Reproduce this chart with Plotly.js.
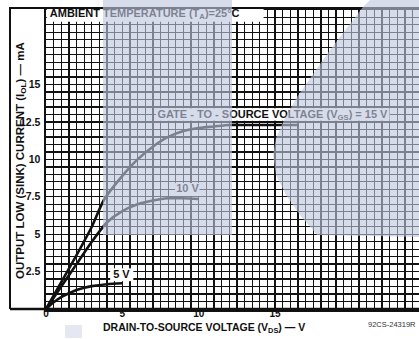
<!DOCTYPE html>
<html>
<head>
<meta charset="utf-8">
<script src="https://cdn.plot.ly/plotly-3.0.1.min.js"></script>
<style>html,body{margin:0;padding:0;background:#fff;}#chart{width:419px;height:339px;}</style>
</head>
<body>
<div id="chart"></div>
<script>
// ---- data ----
const vds15 = [0, 0.5, 1, 2, 3, 3.8, 5, 6, 7, 8, 9, 10, 11, 12, 13, 14, 15, 16.5];
const iol15 = [0, 0.9, 1.8, 3.6, 5.5, 7.3, 8.9, 10.0, 10.85, 11.5, 11.9, 12.1, 12.2, 12.3, 12.3, 12.3, 12.3, 12.3];
const vds10 = [0, 1, 2, 3, 4, 5, 6, 7, 8, 9, 10];
const iol10 = [0, 1.5, 3.0, 4.5, 5.8, 6.55, 7.0, 7.25, 7.4, 7.4, 7.35];
const vds5 = [0, 0.5, 1, 1.5, 2, 2.5, 3, 4, 5];
const iol5 = [0, 0.45, 0.8, 1.05, 1.27, 1.42, 1.53, 1.66, 1.72];
const xTickVals = [0, 5, 10, 15];
const xTickText = ["0", "5", "10", "15"];
const yTickVals = [2.5, 5, 7.5, 10, 12.5, 15];
const yTickText = ["2.5", "5", "7.5", "10", "12.5", "15"];
const labelText = ["AMBIENT TEMPERATURE (T<sub>A</sub>)=25°C", "GATE - TO - SOURCE VOLTAGE (V<sub>GS</sub>) = 15 V", "10 V", "5 V"];
const labelX = [0.25, 14.83, 9.27, 4.94];
const labelY = [19.72, 12.98, 7.98, 2.28];

// ---- layout geometry ----
const W = 419, H = 339, ML = 46, MR = 0, MT = 8, MB = 30;
const PW = W - ML - MR, PH = H - MT - MB;
const XMAX = PW / 15.27, YMAX = PH / 14.96;
const px = x => (x - ML) / PW;          // pixel -> paper x
const py = y => (H - MB - y) / PH;      // pixel -> paper y
const FONT = "Liberation Sans, Arial, sans-serif";

const lineStyle = {color: "#111", width: 2.6, shape: "spline", smoothing: 0.7};
const traces = [
  {x: vds15, y: iol15, mode: "lines", line: lineStyle, hoverinfo: "skip"},
  {x: vds10, y: iol10, mode: "lines", line: lineStyle, hoverinfo: "skip"},
  {x: vds5, y: iol5, mode: "lines", line: lineStyle, hoverinfo: "skip"},
  {x: labelX, y: labelY, text: labelText, mode: "text",
   textposition: ["middle right", "middle center", "middle center", "middle center"],
   textfont: {family: FONT, size: 11, color: "#111", weight: "bold"}, hoverinfo: "skip", cliponaxis: false}
];

function wpath(pts) {
  return "M " + pts.map(p => px(p[0]).toFixed(4) + "," + py(p[1]).toFixed(4)).join(" L ") + " Z";
}
const tint = "rgba(190,198,222,0.62)";
const shapes = [
  // white backgrounds behind in-plot labels
  {type: "rect", xref: "x", yref: "y", x0: 0.05, x1: 14.25, y0: 19.2, y1: 20.3, fillcolor: "#fff", line: {width: 0}, layer: "between"},
  {type: "rect", xref: "x", yref: "y", x0: 7.2, x1: 22.5, y0: 12.58, y1: 13.42, fillcolor: "#fff", line: {width: 0}, layer: "between"},
  {type: "rect", xref: "x", yref: "y", x0: 8.45, x1: 10.05, y0: 7.55, y1: 8.42, fillcolor: "#fff", line: {width: 0}, layer: "between"},
  {type: "rect", xref: "x", yref: "y", x0: 4.2, x1: 5.72, y0: 1.86, y1: 2.72, fillcolor: "#fff", line: {width: 0}, layer: "between"},
  // outer frame
  {type: "path", xref: "paper", yref: "paper", path: "M " + px(10) + "," + py(309) + " L " + px(10) + "," + py(8) + " L " + px(425) + "," + py(8),
   line: {color: "#111", width: 2}, layer: "above"},
  {type: "line", xref: "paper", yref: "paper", x0: px(10), x1: px(425), y0: 0, y1: 0, line: {color: "#111", width: 2.5}, layer: "above"},
  // translucent watermark overlay
  {type: "rect", xref: "paper", yref: "paper", x0: px(103), x1: px(232), y0: py(235), y1: py(-2), fillcolor: tint, line: {width: 0}, layer: "above"},
  {type: "path", xref: "paper", yref: "paper",
   path: wpath([[372, -2], [363, 7], [330, 50], [297, 97], [285, 118], [276, 138], [273, 155], [276, 175], [286, 195], [300, 215], [317, 235], [421, 237], [421, -2]]),
   fillcolor: tint, line: {width: 0}, layer: "above"},
  {type: "rect", xref: "paper", yref: "paper", x0: px(65), x1: px(82), y0: py(338), y1: py(325), fillcolor: "rgba(190,198,222,0.4)", line: {width: 0}, layer: "above"}
];

const annotations = [
  {xref: "paper", yref: "paper", x: px(21), y: py(161), textangle: -90, showarrow: false,
   text: "OUTPUT LOW (SINK) CURRENT (I<sub>OL</sub>) — mA",
   font: {family: FONT, size: 11.5, color: "#111", weight: "bold"}, xanchor: "center", yanchor: "middle"},
  {xref: "paper", yref: "paper", x: px(204), y: py(328), showarrow: false,
   text: "DRAIN-TO-SOURCE VOLTAGE (V<sub>DS</sub>) — V",
   font: {family: FONT, size: 10.5, color: "#111", weight: "bold"}, xanchor: "center", yanchor: "middle"},
  {xref: "paper", yref: "paper", x: px(418), y: py(325), showarrow: false,
   text: "92CS-24319R", font: {family: FONT, size: 7.5, color: "#333"}, xanchor: "right", yanchor: "middle"}
];

const layout = {
  width: W, height: H,
  margin: {l: ML, r: MR, t: MT, b: MB, pad: 0},
  paper_bgcolor: "#fff", plot_bgcolor: "#fff",
  showlegend: false,
  font: {family: FONT, color: "#111"},
  xaxis: {
    range: [0, XMAX], tickmode: "array", tickvals: xTickVals, ticktext: xTickText,
    showgrid: true, gridcolor: "#111", gridwidth: 1.3,
    minor: {tick0: 0, dtick: 0.5, showgrid: true, gridcolor: "#111", gridwidth: 1.3, ticks: ""},
    ticks: "", ticklabelstandoff: -7,
    tickfont: {family: FONT, size: 10, color: "#111", weight: "bold"},
    showline: true, linecolor: "#111", linewidth: 2.5, zeroline: false, fixedrange: true
  },
  yaxis: {
    range: [0, YMAX], tickmode: "array", tickvals: yTickVals, ticktext: yTickText,
    showgrid: true, gridcolor: "#111", gridwidth: 1.3,
    minor: {tick0: 0, dtick: 0.5, showgrid: true, gridcolor: "#111", gridwidth: 1.3, ticks: ""},
    ticks: "", ticklabelstandoff: 1,
    tickfont: {family: FONT, size: 10.5, color: "#111", weight: "bold"},
    showline: true, linecolor: "#111", linewidth: 2.5, zeroline: false, fixedrange: true
  },
  shapes: shapes,
  annotations: annotations
};

Plotly.newPlot("chart", traces, layout, {staticPlot: true, displayModeBar: false});
</script>
</body>
</html>
